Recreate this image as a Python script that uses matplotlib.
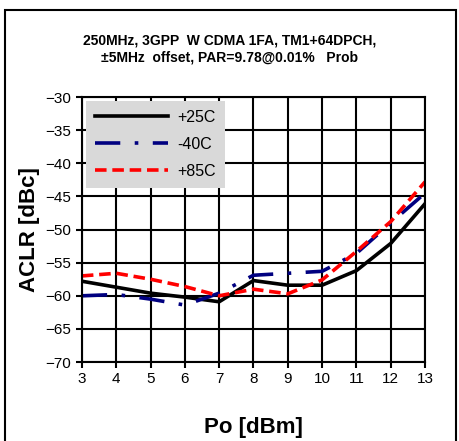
import numpy as np
import matplotlib
matplotlib.use('Agg')
import matplotlib.pyplot as plt
from matplotlib.patches import Rectangle

plt.rcParams['font.family'] = ['Liberation Sans', 'DejaVu Sans']

po = [3, 4, 5, 6, 7, 8, 9, 10, 11, 12, 13]
aclr_25 = [-57.8, -58.7, -59.6, -60.2, -60.9, -57.7, -58.4, -58.4, -56.2, -52.1, -46.1]
aclr_m40 = [-60.0, -59.8, -60.5, -61.4, -59.6, -56.9, -56.6, -56.3, -53.6, -49.0, -44.5]
aclr_85 = [-57.0, -56.6, -57.5, -58.6, -60.0, -59.0, -59.7, -57.6, -53.3, -48.8, -42.8]

fig = plt.figure(figsize=(4.6, 4.41), dpi=100)
ax = fig.add_axes([0.178, 0.179, 0.746, 0.601])

ax.plot(po, aclr_25, color='black', lw=2.6, label='+25C')
ax.plot(po, aclr_m40, color='#000080', lw=2.6, dashes=(7, 4, 1, 4), label='-40C')
ax.plot(po, aclr_85, color='red', lw=2.6, dashes=(3.2, 1.6), label='+85C')

ax.set_xlim(3, 13)
ax.set_ylim(-70, -30)
ax.set_xticks(np.arange(3, 14, 1))
ax.set_yticks(np.arange(-70, -29, 5))
ax.grid(True, color='black', lw=1.5)
for s in ax.spines.values():
    s.set_linewidth(1.5)
ax.tick_params(direction='out', length=4, width=1.5, labelsize=11)
ax.set_xlabel('Po [dBm]', fontsize=16, fontweight='bold', labelpad=22)
ax.set_ylabel('ACLR [dBc]', fontsize=16, fontweight='bold', labelpad=4)
fig.text(0.5, 0.925, '250MHz, 3GPP  W CDMA 1FA, TM1+64DPCH,\n±5MHz  offset, PAR=9.78@0.01%   Prob',
         ha='center', va='top', fontsize=10, fontweight='bold', linespacing=1.35)

leg = ax.legend(loc='upper left', bbox_to_anchor=(0.0, 1.0), frameon=True, fancybox=False,
                facecolor='#d9d9d9', edgecolor='#d9d9d9', framealpha=1, fontsize=11.5,
                handlelength=4.6, handletextpad=0.6, borderpad=0.55, labelspacing=0.75,
                borderaxespad=0.25)
leg.get_frame().set_linewidth(0)

fig.patches.append(Rectangle((0.011, -0.01), 0.98, 0.988, transform=fig.transFigure,
                             fill=False, edgecolor='black', lw=1.5))

fig.savefig('out.png', dpi=100)
